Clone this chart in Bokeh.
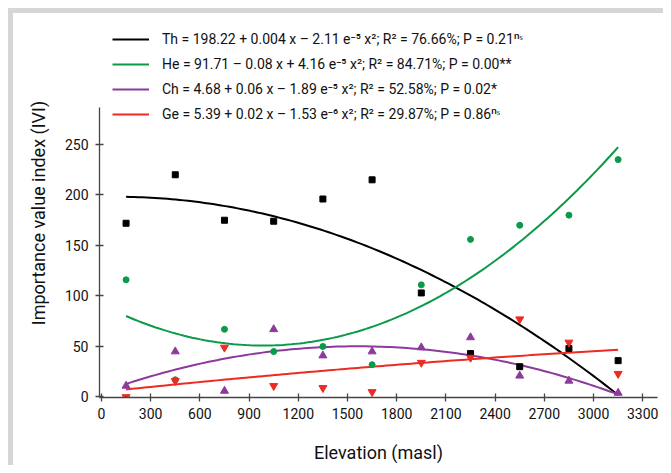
import numpy as np
from bokeh.plotting import figure
from bokeh.models import Legend, LegendItem, FixedTicker, Range1d, Div
from bokeh.layouts import row, column
from bokeh.embed import file_html
from bokeh.resources import INLINE

# ---- data ----
elevation = [150, 450, 750, 1050, 1350, 1650, 1950, 2250, 2550, 2850, 3150]
th_ivi = [172, 220, 175, 174, 196, 215, 103, 43, 30, 48, 36]
he_ivi = [116, 17, 67, 45, 50, 32, 111, 156, 170, 180, 235]
ch_ivi = [11, 45, 6, 67, 41, 45, 49, 59, 21, 16, 4]
ge_ivi = [0, 16, 49, 11, 9, 5, 34, 39, 77, 54, 23]

x_ticks = [0, 300, 600, 900, 1200, 1500, 1800, 2100, 2400, 2700, 3000, 3300]
y_ticks = [0, 50, 100, 150, 200, 250]

labels = [
    "Th = 198.22 + 0.004 x – 2.11 e⁻⁵ x²; R² = 76.66%; P = 0.21ⁿˢ",
    "He = 91.71 – 0.08 x + 4.16 e⁻⁵ x²; R² = 84.71%; P = 0.00**",
    "Ch = 4.68 + 0.06 x – 1.89 e⁻⁵ x²; R² = 52.58%; P = 0.02*",
    "Ge = 5.39 + 0.02 x – 1.53 e⁻⁶ x²; R² = 29.87%; P = 0.86ⁿˢ",
]
colors = ["#000000", "#0a9a4a", "#8e3a9d", "#ee2a24"]
markers = ["square", "circle", "triangle", "inverted_triangle"]
msizes = [6, 6, 8, 8]

FONT = "Roboto"
GREY = "#d6d6d6"

p = figure(width=650, height=452, output_backend="svg", toolbar_location=None,
           x_range=Range1d(-12, 3390), y_range=Range1d(-0.5, 364.8),
           min_border_left=86, min_border_top=15, min_border_right=6,
           min_border_bottom=68)
p.outline_line_color = None
p.grid.grid_line_color = None
p.background_fill_color = "white"
p.border_fill_color = "white"

for ax in (p.xaxis[0], p.yaxis[0]):
    ax.axis_line_color = "#444444"
    ax.axis_line_width = 1.3
    ax.major_tick_line_color = "#444444"
    ax.major_tick_line_width = 1.3
    ax.major_tick_in = 4
    ax.major_tick_out = 4
    ax.minor_tick_line_color = None
    ax.major_label_text_font = FONT
    ax.major_label_text_font_size = "14px"
    ax.major_label_text_color = "#111111"
    ax.axis_label_text_font = FONT
    ax.axis_label_text_font_size = "18px"
    ax.axis_label_text_font_style = "normal"
    ax.axis_label_text_color = "#111111"

p.xaxis.ticker = FixedTicker(ticks=x_ticks)
p.yaxis.ticker = FixedTicker(ticks=y_ticks)
p.yaxis.bounds = (-0.5, 287)
p.xaxis.axis_label = "Elevation (masl)"
p.yaxis.axis_label = "Importance value index (IVI)"
p.xaxis.major_label_standoff = 6
p.yaxis.major_label_standoff = 7
p.xaxis.axis_label_standoff = 20
p.yaxis.axis_label_standoff = 13

xs = np.linspace(elevation[0], elevation[-1], 120)
series = [th_ivi, he_ivi, ch_ivi, ge_ivi]
line_renderers = []
for vals, col in zip(series, colors):
    coef = np.polyfit(elevation, vals, 2)
    ys = np.polyval(coef, xs)
    line_renderers.append(p.line(xs, ys, line_color=col, line_width=2))

for vals, col, mk, ms in zip(series, colors, markers, msizes):
    p.scatter(elevation, vals, marker=mk, size=ms, fill_color=col, line_color=col)

leg_items = []
for lab, r_line, col, mk in zip(labels, line_renderers, colors, markers):
    r_leg = p.scatter([], [], marker=mk, size=5, fill_color=col, line_color=col)
    leg_items.append(LegendItem(label=lab, renderers=[r_line, r_leg]))

legend = Legend(items=leg_items, location=(13, 273),
                glyph_width=37, glyph_height=20, label_height=20,
                label_standoff=13, spacing=5, padding=0, margin=0,
                border_line_color=None, background_fill_alpha=0,
                label_text_font=FONT, label_text_font_size="14px",
                label_text_color="#111111")
p.add_layout(legend, "center")

top_white = Div(text="", width=663, height=8, margin=0,
                styles={"background-color": "white"})
left_white = Div(text="", width=8, height=457, margin=0,
                 styles={"background-color": "white"})
left_bar = Div(text="", width=5, height=457, margin=0,
               styles={"background-color": GREY})
top_bar = Div(text="", width=650, height=5, margin=0,
              styles={"background-color": GREY})
layout = column(top_white,
                row(left_white, left_bar, column(top_bar, p, spacing=0), spacing=0),
                spacing=0)

open("out.html", "w").write(file_html(layout, INLINE))
